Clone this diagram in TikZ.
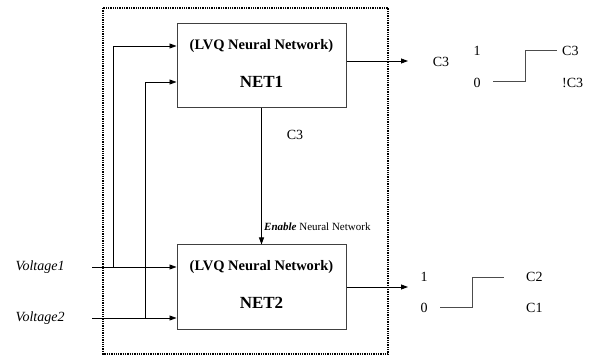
\documentclass[tikz,border=0pt]{standalone}
\usepackage{fontspec}
\setmainfont{Liberation Serif}
\usetikzlibrary{arrows.meta, positioning}

\begin{document}
\begin{tikzpicture}[x=1pt, y=-1pt, font=\fontsize{14}{16}\selectfont,
        every node/.append style={inner sep=0pt},
        netbox/.style={draw=black!75, line width=1pt, minimum width=169pt, minimum height=84pt},
        sig/.style={-{Triangle[length=7pt, width=5pt]}, line width=0.8pt},
        stepline/.style={draw=black!70, line width=1pt}]
        \useasboundingbox (0,0) rectangle (597,358);
        % dotted frame round both nets
        \draw[densely dotted, line width=1.3pt] (103,8) rectangle (388,354);
        \foreach \i/\y in {1/66, 2/287}
        {
            \node[netbox] (net\i) at (261.5,\y) {};
            \node[font=\fontsize{14.5}{16}\selectfont\bfseries] (lvq\i) at (261.5,\y-20) {(LVQ Neural Network)};
            \node[font=\fontsize{17}{18}\selectfont\bfseries] (name\i) at (261.5,\y+16) {NET\i};
        }
        % inputs
        \node[font=\fontsize{14}{16}\selectfont\itshape] (volt1) at (40,267) {Voltage1};
        \node[font=\fontsize{14}{16}\selectfont\itshape] (volt2) at (40,318) {Voltage2};
        \coordinate (in1) at (92,267);
        \coordinate (in2) at (92,318);
        \coordinate (br1) at (113,267);
        \coordinate (br2) at (145,318);
        \draw[sig] (in1) -- (net2.west |- in1);
        \draw[sig] (in2) -- (net2.west |- in2);
        \draw[sig] (br1) -- (br1 |- lvq1) -- (net1.west |- lvq1);
        \draw[sig] (br2) -- (br2 |- name1) -- (net1.west |- name1);
        % outputs
        \coordinate (out1) at (408,61);
        \coordinate (out2) at (408,287);
        \draw[sig] (net1.east |- out1) -- (out1);
        \draw[sig] (net2.east) -- (out2);
        % enable line
        \draw[sig] (net1.south) -- (net2.north);
        \node (c3) at (295,135) {C3};
        \node[anchor=west, font=\fontsize{11}{12}\selectfont] (enable) at (264,227) {\textbf{\textit{Enable}} Neural Network};
        % NET1 output levels
        \node (res1) at (441,62) {C3};
        \node (hi1) at (477,51) {1};
        \node (lo1) at (477,83) {0};
        \draw[stepline] (493,82) -- (525,82) -- (525,51) -- (557,51);
        \node[anchor=west] (c3hi) at (562,51) {C3};
        \node[anchor=west] (c3lo) at (562,83) {!C3};
        % NET2 output levels
        \node (hi2) at (424,277) {1};
        \node (lo2) at (424,308) {0};
        \draw[stepline] (440,307) -- (472,307) -- (472,277) -- (504,277);
        \node[anchor=west] (c2) at (526,277) {C2};
        \node[anchor=west] (c1) at (526,308) {C1};
    \end{tikzpicture}
\end{document}
